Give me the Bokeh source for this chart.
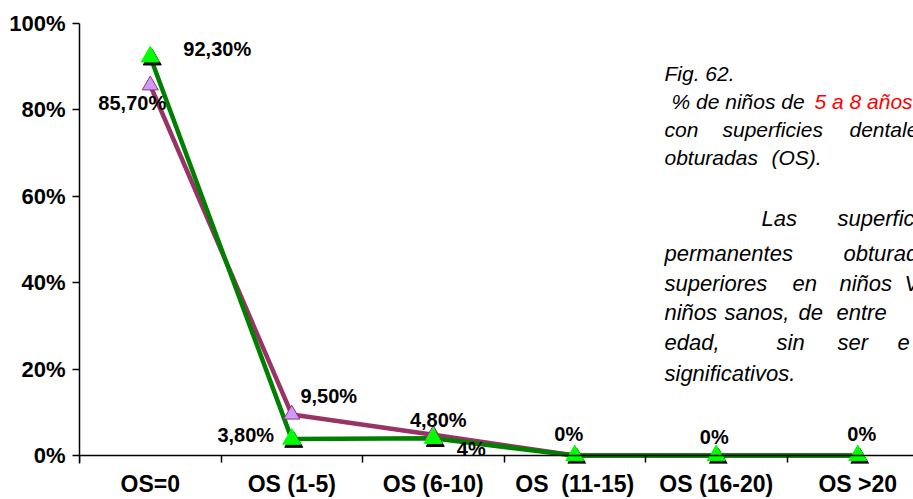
from bokeh.plotting import figure
from bokeh.models import Range1d, FixedTicker, ColumnDataSource, Label, LinearAxis
from bokeh.core.properties import value
from bokeh.embed import file_html
from bokeh.resources import INLINE

# ---------------- data ----------------
categories = ["OS=0", "OS (1-5)", "OS (6-10)", "OS  (11-15)", "OS (16-20)", "OS >20"]
pct_purple = [85.7, 9.5, 4.8, 0.0, 0.0, 0.0]
pct_green = [92.3, 3.8, 4.0, 0.0, 0.0, 0.0]
labels_purple = ["85,70%", "9,50%", "4,80%", "", "", ""]
labels_green = ["92,30%", "3,80%", "4%", "0%", "0%", "0%"]
y_ticks = [0, 20, 40, 60, 80, 100]
y_tick_labels = ["0%", "20%", "40%", "60%", "80%", "100%"]

# ---------------- layout constants ----------------
W, H = 913, 499
FRAME_LEFT = 79          # px
FRAME_TOP = 23
BOTTOM_BORDER = 35
CAT_W = 141.5            # px per category
PX_PER_UNIT = 4.33       # px per percent
ZERO_Y = FRAME_TOP + 100 * PX_PER_UNIT
Y_MIN = -((H - BOTTOM_BORDER) - ZERO_Y) / PX_PER_UNIT
frame_w = W - FRAME_LEFT

xs = list(range(len(categories)))
bounds = [i - 0.5 for i in range(len(categories) + 1)]

p = figure(width=W, height=H,
           x_range=Range1d(-0.5, -0.5 + frame_w / CAT_W),
           y_range=Range1d(Y_MIN, 100),
           output_backend="svg", toolbar_location=None,
           min_border_left=FRAME_LEFT, min_border_right=0,
           min_border_top=FRAME_TOP, min_border_bottom=BOTTOM_BORDER)
p.outline_line_color = None
p.xgrid.grid_line_color = None
p.ygrid.grid_line_color = None
p.background_fill_color = "white"
p.border_fill_color = "white"

# y axis
ya = p.yaxis[0]
ya.ticker = FixedTicker(ticks=y_ticks)
ya.major_label_overrides = {t: l for t, l in zip(y_ticks, y_tick_labels)}
ya.major_label_text_font = "Liberation Sans"
ya.major_label_text_font_style = "bold"
ya.major_label_text_font_size = "22px"
ya.major_label_text_color = "black"
ya.major_tick_out = 7
ya.major_tick_in = 0
ya.minor_tick_out = 0
ya.minor_tick_in = 0
ya.axis_line_width = 1.5
ya.major_tick_line_width = 1.5
ya.major_label_standoff = 7

# x axis line + boundary ticks at y = 0 (no labels)
xa = p.xaxis[0]
xa.fixed_location = 0
xa.ticker = FixedTicker(ticks=bounds)
xa.major_label_overrides = {b: "" for b in bounds}
xa.major_tick_out = 7
xa.major_tick_in = 0
xa.minor_tick_out = 0
xa.minor_tick_in = 0
xa.major_tick_line_width = 1.5
xa.axis_line_width = 1.5

# category labels below the frame (double spaces kept visible)
shown_categories = [c.replace("  ", " \u00a0") for c in categories]
lab_axis = LinearAxis(ticker=FixedTicker(ticks=xs),
                      major_label_overrides={i: c for i, c in zip(xs, shown_categories)},
                      axis_line_color=None, major_tick_line_color=None,
                      minor_tick_line_color=None,
                      major_tick_out=0, major_tick_in=0,
                      minor_tick_out=0, minor_tick_in=0,
                      major_label_standoff=7,
                      major_label_text_font="Liberation Sans",
                      major_label_text_font_style="bold",
                      major_label_text_font_size="23px",
                      major_label_text_line_height=1.0,
                      major_label_text_color="black")
p.add_layout(lab_axis, "below")

# lines
p.line(xs, pct_purple, line_color="#993366", line_width=4.5)
p.line(xs, pct_green, line_color="#008000", line_width=4.5)

# markers
p.scatter(xs, pct_purple, marker="triangle", size=16,
          fill_color="#CC99FF", line_color="#993366", line_width=1)
shadow_x = [x + 2 / CAT_W for x in xs]
shadow_y = [v - 3 / PX_PER_UNIT for v in pct_green]
p.scatter(shadow_x, shadow_y, marker="triangle", size=18,
          fill_color="black", line_color="black")
p.scatter(xs, pct_green, marker="triangle", size=18,
          fill_color="#00FF00", line_color="#00FF00")

# data labels (offsets in screen px, positive = down)
off_purple = [(-18, 18), (37, -18), (5, -15), (0, 0), (0, 0), (0, 0)]
off_green = [(67, -8), (-46, -4.5), (38, 11), (-6, -22), (-2, -19), (4, -22)]

src_p = ColumnDataSource(dict(x=xs, y=pct_purple, t=labels_purple,
                              dx=[o[0] for o in off_purple], dy=[o[1] for o in off_purple]))
src_g = ColumnDataSource(dict(x=xs, y=pct_green, t=labels_green,
                              dx=[o[0] for o in off_green], dy=[o[1] for o in off_green]))
for s in (src_p, src_g):
    p.text(x="x", y="y", text="t", x_offset="dx", y_offset="dy", source=s,
           text_font=value("Liberation Sans"), text_font_style="bold",
           text_font_size="20px", text_color="black",
           text_align="center", text_baseline="middle")

# ---------------- side text ----------------
def dx_(px):
    return -0.5 + (px - FRAME_LEFT) / CAT_W


def dy_(py):
    return (ZERO_Y - py) / PX_PER_UNIT


def add_word(txt, px, py, size, color="black"):
    p.add_layout(Label(x=dx_(px), y=dy_(py), text=txt,
                       text_font="Liberation Sans", text_font_style="italic",
                       text_font_size=size, text_color=color,
                       text_align="left", text_baseline="alphabetic"))


S1 = "21px"
S2 = "22px"
add_word("Fig. 62.", 664, 73, S1)
add_word("% de niños de", 671, 101, S1)
add_word("5 a 8 años", 814, 101, S1, "#FF0000")
add_word("con", 664, 129, S1)
add_word("superficies", 722, 129, S1)
add_word("dentales", 849, 129, S1)
add_word("obturadas", 664, 157, S1)
add_word("(OS).", 771, 157, S1)

add_word("Las", 761, 218, S2)
add_word("superficies", 837, 218, S2)
add_word("permanentes", 664, 254, S2)
add_word("obturadas", 843, 254, S2)
add_word("superiores", 664, 284, S2)
add_word("en", 792, 284, S2)
add_word("niños", 839, 284, S2)
add_word("V", 904, 284, S2)
add_word("niños", 664, 313, S2)
add_word("sanos,", 724, 313, S2)
add_word("de", 798, 313, S2)
add_word("entre", 836, 313, S2)
add_word("edad,", 664, 343, S2)
add_word("sin", 776, 343, S2)
add_word("ser", 837, 343, S2)
add_word("e", 897, 343, S2)
add_word("significativos.", 664, 374, S2)

open("out.html", "w").write(file_html(p, INLINE))
